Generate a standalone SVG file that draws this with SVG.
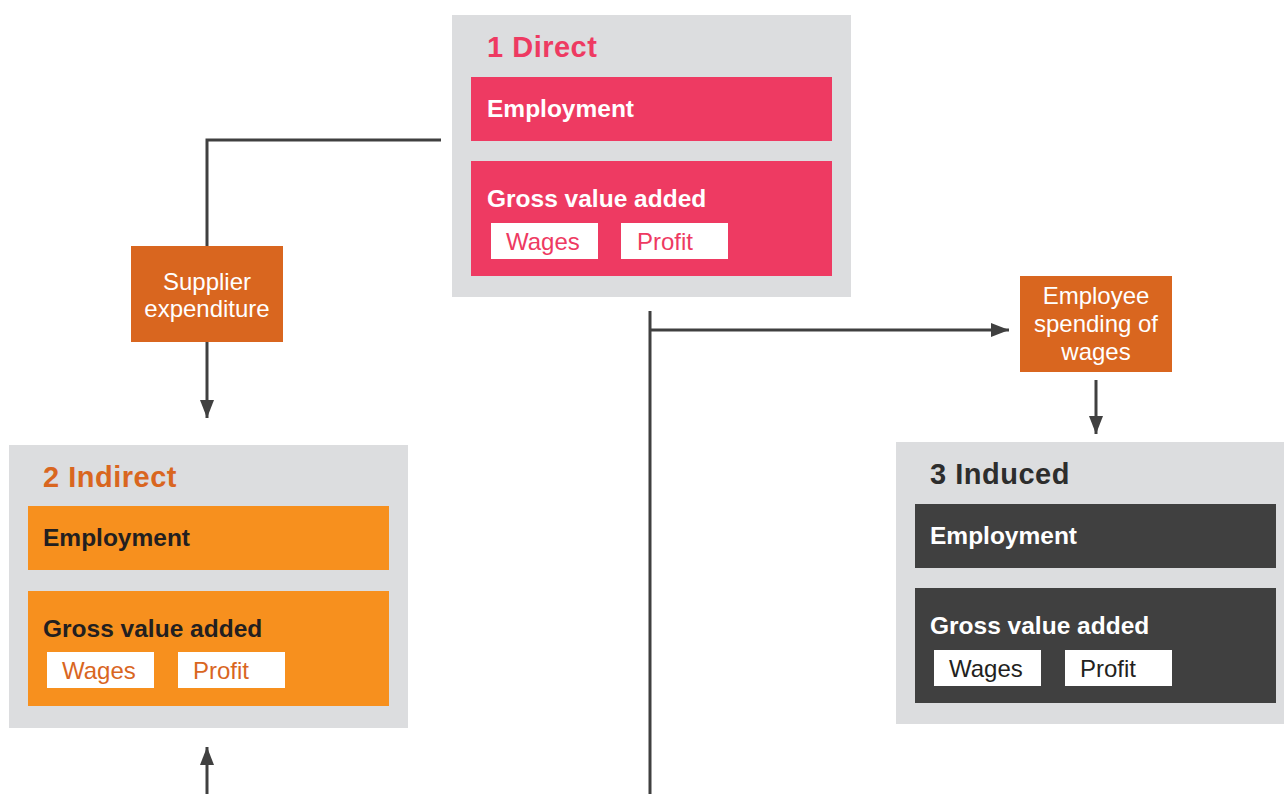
<svg xmlns="http://www.w3.org/2000/svg" width="1284" height="794" viewBox="0 0 1284 794">
<style>
text{font-family:"Liberation Sans",Arial,sans-serif}
.panel{fill:#dcdddf}
.title{font-size:29px;font-weight:bold;letter-spacing:0.5px}
.bold{font-size:24.5px;font-weight:bold}
.reg{font-size:24px}
.chip{fill:#ffffff}
.lbl{fill:#d9661f}
.lbltxt{font-size:24px;fill:#ffffff;text-anchor:middle}
.conn{stroke:#404040;stroke-width:3;fill:none}
</style>
<defs>
<marker id="arr" markerWidth="18" markerHeight="14" refX="18" refY="7" orient="auto" markerUnits="userSpaceOnUse" viewBox="0 0 18 14">
<path d="M0,0 L18,7 L0,14 Z" fill="#404040"/>
</marker>
</defs>
<g id="connectors">
<polyline class="conn" points="441,140 207,140 207,246"/>
<line class="conn" x1="207" y1="342" x2="207" y2="418" marker-end="url(#arr)"/>
<line class="conn" x1="207" y1="794" x2="207" y2="747" marker-end="url(#arr)"/>
<line class="conn" x1="650" y1="311" x2="650" y2="794"/>
<line class="conn" x1="650" y1="330" x2="1009" y2="330" marker-end="url(#arr)"/>
<line class="conn" x1="1096" y1="380" x2="1096" y2="434" marker-end="url(#arr)"/>
</g>
<g id="supplier">
<rect class="lbl" x="131" y="246" width="152" height="96"/>
<text class="lbltxt" x="207" y="290">Supplier</text>
<text class="lbltxt" x="207" y="317">expenditure</text>
</g>
<g id="employee">
<rect class="lbl" x="1020" y="276" width="152" height="96"/>
<text class="lbltxt" x="1096" y="304">Employee</text>
<text class="lbltxt" x="1096" y="332">spending of</text>
<text class="lbltxt" x="1096" y="360">wages</text>
</g>
<g id="direct">
<rect class="panel" x="452" y="15" width="399" height="282"/>
<text class="title" x="487" y="57" fill="#ee3a62">1 Direct</text>
<rect x="471" y="77" width="361" height="64" fill="#ee3a62"/>
<text class="bold" x="487" y="117" fill="#ffffff">Employment</text>
<rect x="471" y="161" width="361" height="115" fill="#ee3a62"/>
<text class="bold" x="487" y="207" fill="#ffffff">Gross value added</text>
<rect class="chip" x="491" y="223" width="107" height="36"/>
<rect class="chip" x="621" y="223" width="107" height="36"/>
<text class="reg" x="506" y="250" fill="#ee3a62">Wages</text>
<text class="reg" x="637" y="250" fill="#ee3a62">Profit</text>
</g>
<g id="indirect">
<rect class="panel" x="9" y="445" width="399" height="283"/>
<text class="title" x="43" y="487" fill="#d9661f">2 Indirect</text>
<rect x="28" y="506" width="361" height="64" fill="#f7901e"/>
<text class="bold" x="43" y="546" fill="#231f20">Employment</text>
<rect x="28" y="591" width="361" height="115" fill="#f7901e"/>
<text class="bold" x="43" y="637" fill="#231f20">Gross value added</text>
<rect class="chip" x="47" y="652" width="107" height="36"/>
<rect class="chip" x="178" y="652" width="107" height="36"/>
<text class="reg" x="62" y="679" fill="#d9661f">Wages</text>
<text class="reg" x="193" y="679" fill="#d9661f">Profit</text>
</g>
<g id="induced">
<rect class="panel" x="896" y="442" width="388" height="282"/>
<text class="title" x="930" y="484" fill="#2d2d2d">3 Induced</text>
<rect x="915" y="504" width="361" height="64" fill="#404040"/>
<text class="bold" x="930" y="544" fill="#ffffff">Employment</text>
<rect x="915" y="588" width="361" height="115" fill="#404040"/>
<text class="bold" x="930" y="634" fill="#ffffff">Gross value added</text>
<rect class="chip" x="934" y="650" width="107" height="36"/>
<rect class="chip" x="1065" y="650" width="107" height="36"/>
<text class="reg" x="949" y="677" fill="#231f20">Wages</text>
<text class="reg" x="1080" y="677" fill="#231f20">Profit</text>
</g>
</svg>
